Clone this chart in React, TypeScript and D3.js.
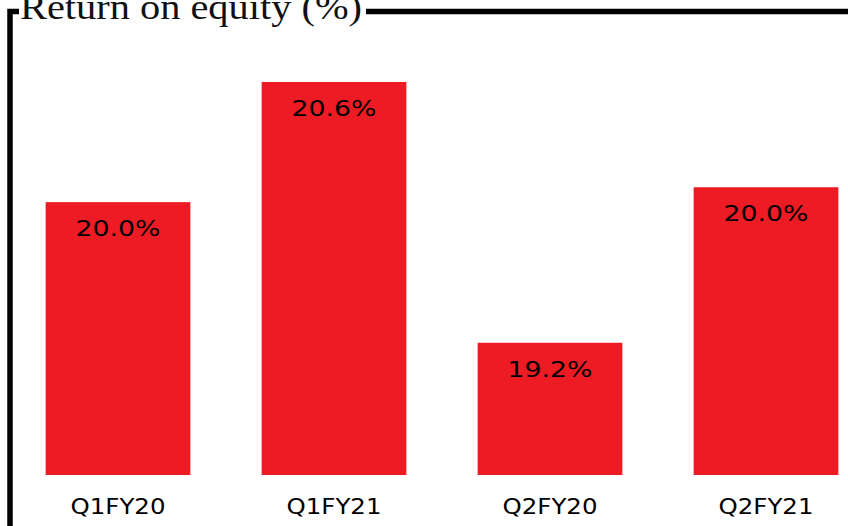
import React, { useEffect, useRef } from "react";
import * as d3 from "d3";

// quarters and return on equity (%)
const quarters = ["Q1FY20", "Q1FY21", "Q2FY20", "Q2FY21"];
const roe = [19.955, 20.6, 19.2, 20.035];
const yFloor = 18.49; // the bars don't start at zero in the source
const title = "Return on equity (%)";

const W = 848;
const H = 526;

export default function App() {
  const ref = useRef<SVGSVGElement>(null);

  useEffect(() => {
    const svg = d3.select(ref.current);
    svg.selectAll("*").remove();

    const x = d3.scaleBand().domain(quarters).range([10, 874]).paddingInner(0.33).paddingOuter(0.165);
    const y = d3.scaleLinear().domain([yFloor, d3.max(roe) as number]).range([475, 82]);

    const data = quarters.map((q, i) => ({ q, v: roe[i] }));

    // frame around the chart, broken by the title
    const frame = svg.append("g").attr("stroke", "#000").attr("stroke-width", 5.5).attr("fill", "none");
    frame.append("path").attr("d", `M10,${H} L10,11.5 L19,11.5`);
    frame.append("path").attr("d", `M366,11.5 L${W},11.5`);

    svg
      .append("text")
      .attr("x", 20)
      .attr("y", 19)
      .attr("font-family", "'Liberation Serif', 'DejaVu Serif', serif")
      .attr("font-size", 36)
      .attr("textLength", 342)
      .attr("lengthAdjust", "spacingAndGlyphs")
      .attr("fill", "#111")
      .text(title);

    svg
      .selectAll(".bar")
      .data(data)
      .join("rect")
      .attr("class", "bar")
      .attr("x", (d) => x(d.q) as number)
      .attr("y", (d) => y(d.v))
      .attr("width", x.bandwidth())
      .attr("height", (d) => y(yFloor) - y(d.v))
      .attr("fill", "#ED1C24");

    svg
      .selectAll(".val")
      .data(data)
      .join("text")
      .attr("class", "val")
      .attr("x", (d) => (x(d.q) as number) + x.bandwidth() / 2)
      .attr("y", (d) => y(d.v) + 34)
      .attr("text-anchor", "middle")
      .attr("font-family", "'DejaVu Sans', sans-serif")
      .attr("font-size", 22)
      .attr("textLength", 85)
      .attr("lengthAdjust", "spacingAndGlyphs")
      .attr("fill", "#000")
      .text((d) => d.v.toFixed(1) + "%");

    svg
      .selectAll(".cat")
      .data(data)
      .join("text")
      .attr("class", "cat")
      .attr("x", (d) => (x(d.q) as number) + x.bandwidth() / 2)
      .attr("y", 514)
      .attr("text-anchor", "middle")
      .attr("font-family", "'DejaVu Sans', sans-serif")
      .attr("font-size", 21)
      .attr("textLength", 95)
      .attr("lengthAdjust", "spacingAndGlyphs")
      .attr("fill", "#000")
      .text((d) => d.q);
  }, []);

  return (
    <svg
      ref={ref}
      width={W}
      height={H}
      style={{ position: "fixed", top: 0, left: 0, background: "#fff" }}
    />
  );
}
